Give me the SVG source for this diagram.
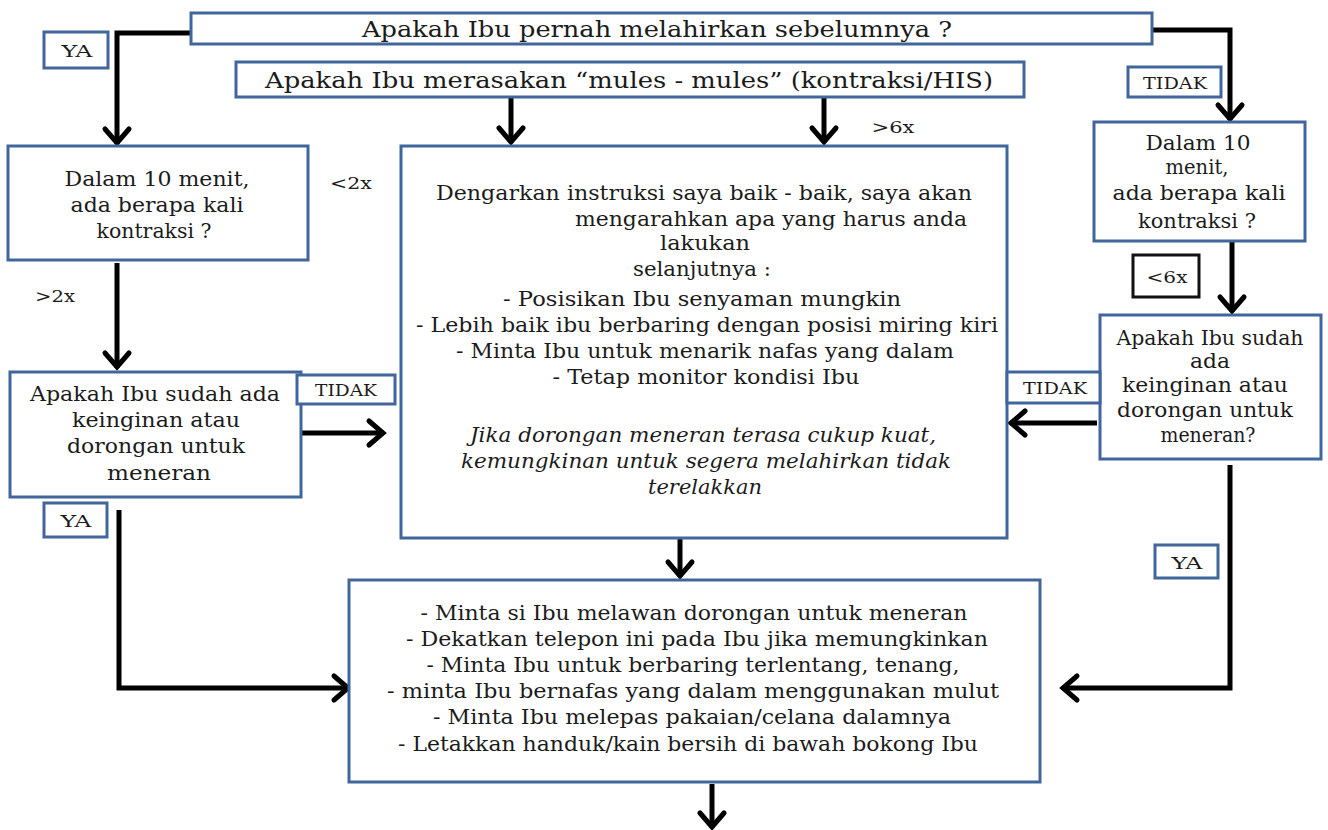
<svg xmlns="http://www.w3.org/2000/svg" width="1328" height="830" viewBox="0 0 1328 830" xml:space="preserve">
  <style>
    .box { fill: #ffffff; stroke: #41669b; stroke-width: 3; }
    .tag { fill: #ffffff; stroke: #41669b; stroke-width: 3; }
    .tagk { fill: #ffffff; stroke: #111111; stroke-width: 3; }
    .t { font-family: "DejaVu Serif", serif; font-size: 20px; fill: #1b1b1b; text-anchor: middle; }
    .big { font-size: 22px; }
    .sm { font-size: 17px; }
    .it { font-style: italic; }
    .wire { fill: none; stroke: #000000; stroke-width: 5; marker-end: url(#arr); }
  </style>
  <defs>
    <marker id="arr" markerUnits="userSpaceOnUse" markerWidth="40" markerHeight="40" viewBox="-20 -20 40 40" refX="0" refY="0" orient="auto">
      <path d="M-15,-12 L-1,0 L-15,12" fill="none" stroke="#000000" stroke-width="5" stroke-linecap="round" stroke-linejoin="miter"/>
    </marker>
  </defs>
  <rect width="1328" height="830" fill="#ffffff"/>

  <!-- connectors -->
  <g id="connectors">
    <path class="wire" d="M191,33 H117 V144"/>
    <path class="wire" d="M511,98 V143"/>
    <path class="wire" d="M824,98 V143"/>
    <path class="wire" d="M1152,30 H1230 V120"/>
    <path class="wire" d="M117,263 V368"/>
    <path class="wire" d="M299,433 H384"/>
    <path class="wire" d="M119,510 V688 H349"/>
    <path class="wire" d="M1232,242 V312"/>
    <path class="wire" d="M1097,423 H1010"/>
    <path class="wire" d="M1230,465 V688 H1062"/>
    <path class="wire" d="M680,538 V577"/>
    <path class="wire" d="M712,784 V828"/>
  </g>

  <!-- question: given birth before -->
  <g id="q-pernah">
    <rect class="box" x="191" y="13" width="961" height="31"/>
    <text class="t big" x="657" y="37" textLength="590" lengthAdjust="spacingAndGlyphs">Apakah Ibu pernah melahirkan sebelumnya ?</text>
  </g>

  <!-- question: contractions felt -->
  <g id="q-mules">
    <rect class="box" x="236" y="62" width="788" height="35"/>
    <text class="t big" x="629" y="88" textLength="728" lengthAdjust="spacingAndGlyphs">Apakah Ibu merasakan “mules - mules” (kontraksi/HIS)</text>
  </g>

  <g id="tag-ya-top">
    <rect class="tag" x="44" y="32" width="64" height="36"/>
    <text class="t sm" x="77" y="57" textLength="31" lengthAdjust="spacingAndGlyphs">YA</text>
  </g>

  <g id="tag-tidak-top">
    <rect class="tag" x="1128" y="67" width="93" height="30"/>
    <text class="t sm" x="1175" y="89" textLength="64" lengthAdjust="spacingAndGlyphs">TIDAK</text>
  </g>

  <!-- left branch -->
  <g id="q-count-left">
    <rect class="box" x="8" y="146" width="300" height="114"/>
    <text class="t" x="157" y="186" textLength="185" lengthAdjust="spacingAndGlyphs">Dalam 10 menit,</text>
    <text class="t" x="157" y="212" textLength="173" lengthAdjust="spacingAndGlyphs">ada berapa kali</text>
    <text class="t" x="154" y="238" textLength="115" lengthAdjust="spacingAndGlyphs">kontraksi ?</text>
  </g>

  <g id="lbl-lt2">
    <text class="t sm" x="351" y="189" textLength="42" lengthAdjust="spacingAndGlyphs">&lt;2x</text>
  </g>
  <g id="lbl-gt2">
    <text class="t sm" x="55" y="302" textLength="40" lengthAdjust="spacingAndGlyphs">&gt;2x</text>
  </g>

  <g id="q-push-left">
    <rect class="box" x="10" y="372" width="291" height="125"/>
    <text class="t" x="155" y="401" textLength="250" lengthAdjust="spacingAndGlyphs">Apakah Ibu  sudah ada</text>
    <text class="t" x="156" y="427" textLength="168" lengthAdjust="spacingAndGlyphs">keinginan atau</text>
    <text class="t" x="156" y="453" textLength="178" lengthAdjust="spacingAndGlyphs">dorongan untuk</text>
    <text class="t" x="159" y="480" textLength="104" lengthAdjust="spacingAndGlyphs">meneran</text>
  </g>

  <g id="tag-tidak-left">
    <rect class="tag" x="297" y="375" width="98" height="29"/>
    <text class="t sm" x="346" y="396" textLength="62" lengthAdjust="spacingAndGlyphs">TIDAK</text>
  </g>

  <g id="tag-ya-left">
    <rect class="tag" x="44" y="503" width="63" height="34"/>
    <text class="t sm" x="76" y="527" textLength="31" lengthAdjust="spacingAndGlyphs">YA</text>
  </g>

  <!-- central instructions -->
  <g id="instructions">
    <rect class="box" x="401" y="146" width="606" height="392"/>
    <text class="t" x="704" y="200" textLength="536" lengthAdjust="spacingAndGlyphs">Dengarkan instruksi saya baik  - baik, saya akan</text>
    <text class="t" x="771" y="226" textLength="392" lengthAdjust="spacingAndGlyphs">mengarahkan apa  yang harus  anda</text>
    <text class="t" x="705" y="250" textLength="90" lengthAdjust="spacingAndGlyphs">lakukan</text>
    <text class="t" x="702" y="276" textLength="138" lengthAdjust="spacingAndGlyphs">selanjutnya :</text>
    <text class="t" x="702" y="306" textLength="398" lengthAdjust="spacingAndGlyphs">- Posisikan Ibu senyaman mungkin</text>
    <text class="t" x="707" y="332" textLength="582" lengthAdjust="spacingAndGlyphs">- Lebih baik ibu  berbaring dengan posisi miring kiri</text>
    <text class="t" x="705" y="358" textLength="498" lengthAdjust="spacingAndGlyphs">- Minta Ibu  untuk menarik nafas yang dalam</text>
    <text class="t" x="706" y="384" textLength="307" lengthAdjust="spacingAndGlyphs">-   Tetap monitor kondisi Ibu</text>
    <text class="t it" x="703" y="442" textLength="466" lengthAdjust="spacingAndGlyphs">Jika  dorongan  meneran  terasa  cukup kuat,</text>
    <text class="t it" x="706" y="468" textLength="490" lengthAdjust="spacingAndGlyphs">kemungkinan  untuk segera  melahirkan  tidak</text>
    <text class="t it" x="705" y="494" textLength="114" lengthAdjust="spacingAndGlyphs">terelakkan</text>
  </g>

  <!-- right branch -->
  <g id="q-count-right">
    <rect class="box" x="1094" y="122" width="211" height="119"/>
    <text class="t" x="1198" y="150" textLength="105" lengthAdjust="spacingAndGlyphs">Dalam 10</text>
    <text class="t" x="1197" y="174" textLength="63" lengthAdjust="spacingAndGlyphs">menit,</text>
    <text class="t" x="1199" y="200" textLength="173" lengthAdjust="spacingAndGlyphs">ada berapa kali</text>
    <text class="t" x="1197" y="228" textLength="118" lengthAdjust="spacingAndGlyphs">kontraksi ?</text>
  </g>

  <g id="tag-lt6">
    <rect class="tagk" x="1133" y="255" width="66" height="42"/>
    <text class="t sm" x="1167" y="283" textLength="41" lengthAdjust="spacingAndGlyphs">&lt;6x</text>
  </g>

  <g id="lbl-gt6">
    <text class="t sm" x="893" y="133" textLength="43" lengthAdjust="spacingAndGlyphs">&gt;6x</text>
  </g>

  <g id="q-push-right">
    <rect class="box" x="1100" y="315" width="221" height="144"/>
    <text class="t" x="1210" y="345" textLength="187" lengthAdjust="spacingAndGlyphs">Apakah Ibu  sudah</text>
    <text class="t" x="1210" y="368" textLength="40" lengthAdjust="spacingAndGlyphs">ada</text>
    <text class="t" x="1205" y="392" textLength="166" lengthAdjust="spacingAndGlyphs">keinginan atau</text>
    <text class="t" x="1205" y="417" textLength="176" lengthAdjust="spacingAndGlyphs">dorongan untuk</text>
    <text class="t" x="1208" y="442" textLength="95" lengthAdjust="spacingAndGlyphs">meneran?</text>
  </g>

  <g id="tag-tidak-right">
    <rect class="tag" x="1007" y="372" width="93" height="31"/>
    <text class="t sm" x="1055" y="394" textLength="64" lengthAdjust="spacingAndGlyphs">TIDAK</text>
  </g>

  <g id="tag-ya-right">
    <rect class="tag" x="1155" y="545" width="63" height="33"/>
    <text class="t sm" x="1187" y="569" textLength="31" lengthAdjust="spacingAndGlyphs">YA</text>
  </g>

  <!-- final steps -->
  <g id="final-steps">
    <rect class="box" x="349" y="580" width="691" height="202"/>
    <text class="t" x="694" y="620" textLength="547" lengthAdjust="spacingAndGlyphs">- Minta si Ibu  melawan dorongan untuk meneran</text>
    <text class="t" x="697" y="646" textLength="582" lengthAdjust="spacingAndGlyphs">- Dekatkan telepon ini pada Ibu  jika memungkinkan</text>
    <text class="t" x="693" y="672" textLength="533" lengthAdjust="spacingAndGlyphs">- Minta Ibu  untuk berbaring  terlentang, tenang,</text>
    <text class="t" x="693" y="698" textLength="612" lengthAdjust="spacingAndGlyphs">- minta Ibu bernafas  yang dalam  menggunakan mulut</text>
    <text class="t" x="692" y="724" textLength="518" lengthAdjust="spacingAndGlyphs">- Minta Ibu  melepas pakaian/celana dalamnya</text>
    <text class="t" x="688" y="751" textLength="580" lengthAdjust="spacingAndGlyphs">- Letakkan handuk/kain bersih di bawah bokong Ibu</text>
  </g>
</svg>
